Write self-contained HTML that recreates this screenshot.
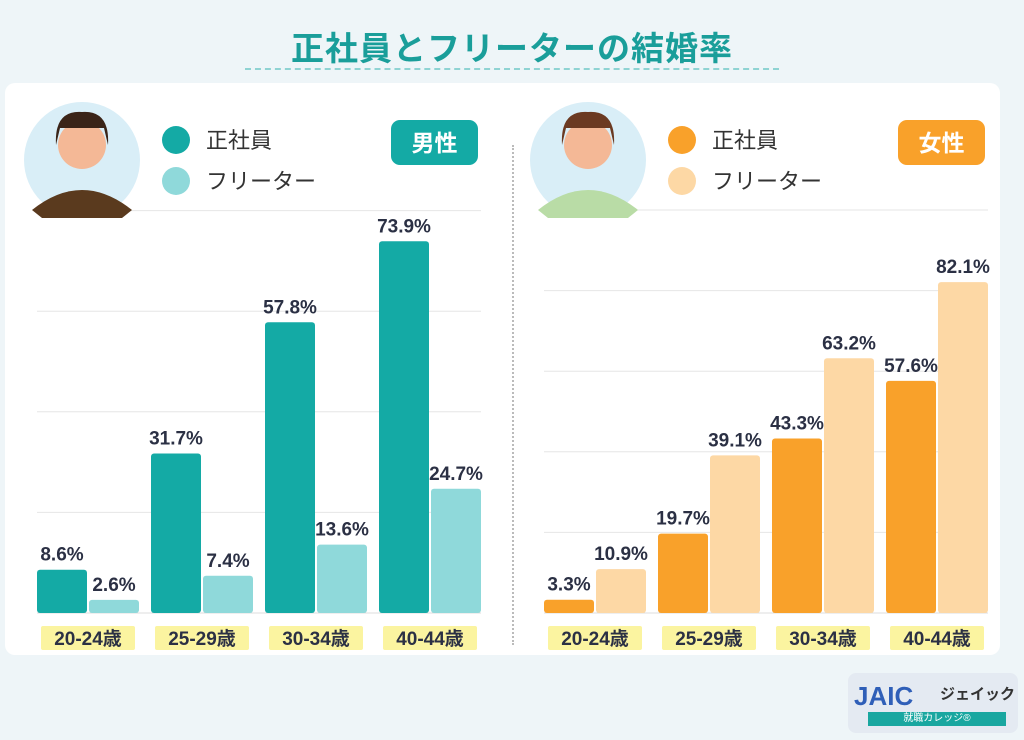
<!DOCTYPE html>
<html><head><meta charset="utf-8">
<style>
body{margin:0;width:1024px;height:740px;background:#eef5f8;font-family:"Liberation Sans","Noto Sans CJK JP",sans-serif;position:relative;overflow:hidden}
.abs{position:absolute}
</style></head><body>
<div class="abs" style="left:0;width:1024px;top:22px;text-align:center;font-size:33px;font-weight:bold;color:#1a9e9a;letter-spacing:1px">正社員とフリーターの結婚率</div>
<div class="abs" style="left:245px;top:68px;width:534px;border-top:2px dashed #8fd3d3"></div>
<div class="abs" style="left:5px;top:83px;width:995px;height:572px;background:#fff;border-radius:10px"></div>
<div class="abs" style="left:512px;top:145px;height:500px;border-left:2px dotted #bbb"></div>
<svg class="abs" style="left:0;top:0" width="1024" height="740" id="svg"></svg>
<div class="abs" style="left:848px;top:673px;width:170px;height:60px;background:#e4eaf2;border-radius:8px">
<div class="abs" style="left:6px;top:8px;font-size:26px;font-weight:bold;color:#2f5fb8">JAIC</div>
<div class="abs" style="left:92px;top:10px;font-size:15px;font-weight:bold;color:#333">ジェイック</div>
<div class="abs" style="left:20px;top:39px;width:138px;height:14px;background:#19a7a0;color:#fff;font-size:10px;text-align:center;line-height:14px">就職カレッジ®</div>
</div>
<script>
const categories=["20-24歳","25-29歳","30-34歳","40-44歳"];
const maleSeishain=[8.6,31.7,57.8,73.9];
const maleFreeter=[2.6,7.4,13.6,24.7];
const femaleSeishain=[3.3,19.7,43.3,57.6];
const femaleFreeter=[10.9,39.1,63.2,82.1];
const maleTicks=[0,20,40,60,80];
const femaleTicks=[0,20,40,60,80,100];
const svg=document.getElementById('svg');
const NS='http://www.w3.org/2000/svg';
function mk(t,a,p){const e=document.createElementNS(NS,t);for(const k in a)e.setAttribute(k,a[k]);(p||svg).appendChild(e);return e;}
function panel(o){
  const y=v=>613-v*o.ppu;
  o.ticks.forEach(t=>{if(t===0)return;const l=mk('line',{x1:o.x0,x2:o.x1,y1:y(t),y2:y(t),stroke:'#e6e6e6','stroke-width':1});
  
  });
  const base=mk('line',{x1:o.x0,x2:o.x1,y1:613,y2:613,stroke:'#ddd'});
  
  
  categories.forEach((c,i)=>{
    const gx=o.g0+i*o.step;
    [[o.a[i],o.ca,0],[o.b[i],o.cb,52]].forEach(([v,col,dx])=>{
      const r=mk('rect',{x:gx+dx,y:y(v),width:50,height:v*o.ppu,fill:col,rx:3});
      
      
      const t=mk('text',{x:gx+dx+25,y:y(v)-9,'text-anchor':'middle','font-size':19,'font-weight':'bold',fill:'#2b3044'});
      t.textContent=v.toFixed(1)+'%';
      
      
    });
    const hl=mk('rect',{x:gx+4,y:626,width:94,height:24,fill:'#fbf4a0',rx:2});
    
    
    const xl=mk('text',{x:gx+51,y:645,'text-anchor':'middle','font-size':19,'font-weight':'bold',fill:'#2b3044'});
    xl.textContent=c;
    
    
  });
  const av=mk('circle',{cx:o.ax,cy:160,r:58,fill:'#d9eef7'});
  
  
  mk('path',{d:`M${o.ax-50} ${210} Q${o.ax} ${170} ${o.ax+50} 210 L${o.ax+40} 218 L${o.ax-40} 218Z`,fill:o.shirt});
  mk('circle',{cx:o.ax,cy:145,r:24,fill:'#f4b896'});
  mk('path',{d:`M${o.ax-26} 145 Q${o.ax-28} 110 ${o.ax} 112 Q${o.ax+28} 110 ${o.ax+26} 145 L${o.ax+22} 128 L${o.ax-22} 128Z`,fill:o.hair});
  [[o.ca,'正社員',140],[o.cb,'フリーター',181]].forEach(([c,l,yy])=>{
    const d=mk('circle',{cx:o.lx,cy:yy,r:14,fill:c});
    
    
    const t=mk('text',{x:o.lx+30,y:yy+8,'font-size':22,fill:'#333'});
    t.textContent=l;
    
    
  });
  const bd=mk('rect',{x:o.bx,y:120,width:87,height:45,rx:9,fill:o.ca});
  
  
  const bt=mk('text',{x:o.bx+43.5,y:151,'text-anchor':'middle','font-size':23,'font-weight':'bold',fill:'#fff'});
  bt.textContent=o.badge;
  
  
}
panel({a:maleSeishain,b:maleFreeter,ticks:maleTicks,ppu:5.03,g0:37,step:114,x0:37,x1:481,ca:'#14aaa5',cb:'#8fd9da',ax:82,lx:176,bx:391,badge:'男性',shirt:'#5a3a1e',hair:'#3a2418'});
panel({a:femaleSeishain,b:femaleFreeter,ticks:femaleTicks,ppu:4.03,g0:544,step:114,x0:544,x1:988,ca:'#f9a12a',cb:'#fdd8a5',ax:588,lx:682,bx:898,badge:'女性',shirt:'#b9dca6',hair:'#6b3a22'});
</script>
</body></html>
